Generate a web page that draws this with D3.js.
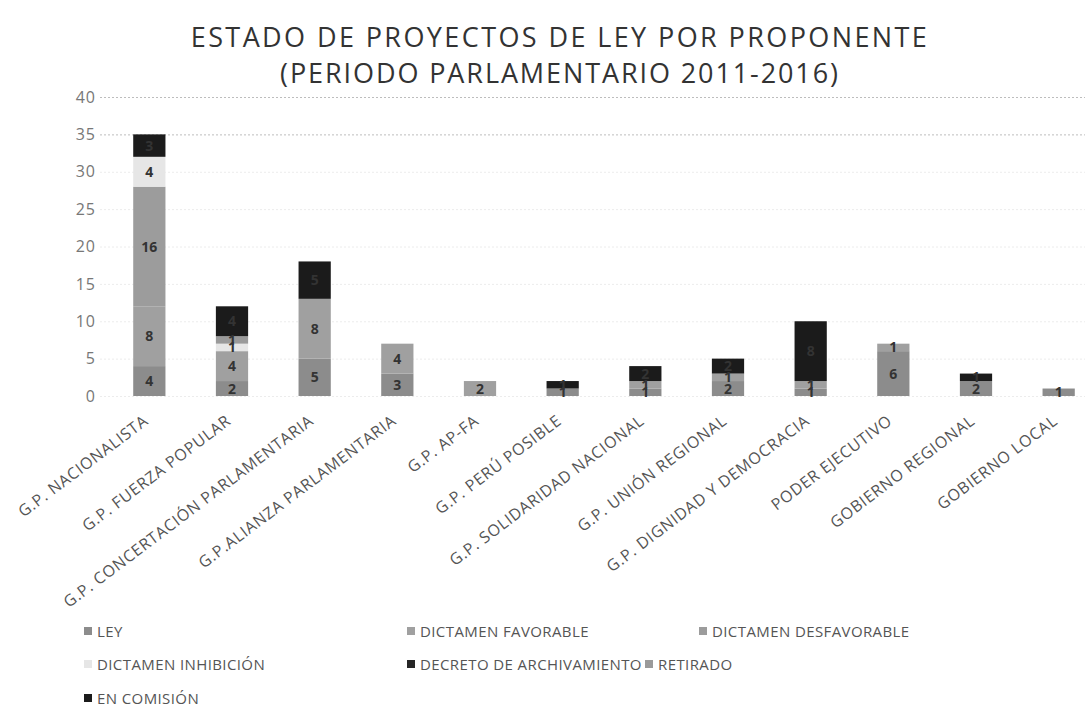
<!DOCTYPE html>
<html>
<head>
<meta charset="utf-8">
<script src="https://cdn.jsdelivr.net/npm/d3@7"></script>
<style>
  html, body { margin: 0; padding: 0; background: #fff; }
  svg { display: block; font-family: "Open Sans", "DejaVu Sans", sans-serif; }
</style>
</head>
<body>
<svg id="chart" width="1089" height="715"></svg>
<script>
const categories = [
  "G.P. NACIONALISTA", "G.P. FUERZA POPULAR", "G.P. CONCERTACIÓN PARLAMENTARIA",
  "G.P.ALIANZA PARLAMENTARIA", "G.P. AP-FA", "G.P. PERÚ POSIBLE",
  "G.P. SOLIDARIDAD NACIONAL", "G.P. UNIÓN REGIONAL", "G.P. DIGNIDAD Y DEMOCRACIA",
  "PODER EJECUTIVO", "GOBIERNO REGIONAL", "GOBIERNO LOCAL"
];
const seriesNames = [
  "LEY", "DICTAMEN FAVORABLE", "DICTAMEN DESFAVORABLE", "DICTAMEN INHIBICIÓN",
  "DECRETO DE ARCHIVAMIENTO", "RETIRADO", "EN COMISIÓN"
];
const ley                  = [4, 2, 5, 3, 0, 1, 1, 2, 1, 6, 2, 1];
const dictamenFavorable    = [8, 4, 8, 4, 2, 0, 1, 1, 1, 1, 0, 0];
const dictamenDesfavorable = [16, 0, 0, 0, 0, 0, 0, 0, 0, 0, 0, 0];
const dictamenInhibicion   = [4, 1, 0, 0, 0, 0, 0, 0, 0, 0, 0, 0];
const decretoArchivamiento = [0, 0, 0, 0, 0, 0, 0, 0, 0, 0, 0, 0];
const retirado             = [0, 1, 0, 0, 0, 0, 0, 0, 0, 0, 0, 0];
const enComision           = [3, 4, 5, 0, 0, 1, 2, 2, 8, 0, 1, 0];
const yTicks = [0, 5, 10, 15, 20, 25, 30, 35, 40];
const titleLines = ["ESTADO DE PROYECTOS DE LEY POR PROPONENTE", "(PERIODO PARLAMENTARIO 2011-2016)"];

const seriesValues = [ley, dictamenFavorable, dictamenDesfavorable, dictamenInhibicion,
                      decretoArchivamiento, retirado, enComision];
const colors = ["#8c8c8c", "#a0a0a0", "#9c9c9c", "#e6e6e6", "#262626", "#9a9a9a", "#1b1b1b"];

const rows = categories.map((c, i) => {
  const r = { cat: c };
  seriesNames.forEach((s, j) => r[s] = seriesValues[j][i]);
  return r;
});
const stacked = d3.stack().keys(seriesNames)(rows);

const svg = d3.select("#chart");
svg.append("rect").attr("width", 1089).attr("height", 715).attr("fill", "#fff");

const x = d3.scaleBand().domain(categories).range([108, 1100]).paddingInner(0.61).paddingOuter(0.305);
const y = d3.scaleLinear().domain([0, 40]).range([396, 97]);

// title
svg.append("g").selectAll("text").data(titleLines).join("text")
  .attr("x", 560).attr("y", (d, i) => 47 + i * 36)
  .attr("text-anchor", "middle")
  .attr("font-size", 27).attr("letter-spacing", (d, i) => i === 0 ? 2.4 : 1.9).attr("fill", "#333")
  .text(d => d);

// gridlines
const grid = svg.append("g").attr("transform", "translate(100,0)")
  .call(d3.axisLeft(y).tickValues(yTicks).tickSize(-985).tickFormat(""));
grid.select(".domain").remove();
grid.selectAll(".tick line")
  .attr("stroke", d => d >= 35 ? "#bdbdbd" : "#ececec")
  .attr("stroke-dasharray", "2,2");

// y axis labels
const yAxis = svg.append("g").attr("transform", "translate(96,0)")
  .call(d3.axisLeft(y).tickValues(yTicks).tickSize(0).tickPadding(0));
yAxis.select(".domain").remove();
yAxis.selectAll("text").attr("font-size", 16).attr("fill", "#777").attr("letter-spacing", 1)
  .attr("font-family", "\"Open Sans\", sans-serif");

// bars
const layers = svg.append("g").selectAll("g").data(stacked).join("g")
  .attr("fill", (d, i) => colors[i]);
layers.selectAll("rect").data(d => d.filter(p => p[1] - p[0] > 0)).join("rect")
  .attr("x", d => x(d.data.cat))
  .attr("width", x.bandwidth())
  .attr("y", d => y(d[1]))
  .attr("height", d => y(d[0]) - y(d[1]));

// value labels
const lab = svg.append("g").selectAll("g").data(stacked).join("g");
lab.selectAll("text").data(d => d.filter(p => p[1] - p[0] > 0)).join("text")
  .attr("x", d => x(d.data.cat) + x.bandwidth() / 2)
  .attr("y", d => y((d[0] + d[1]) / 2) + 5)
  .attr("text-anchor", "middle")
  .attr("font-size", 14).attr("font-weight", "bold").attr("fill", "#333")
  .text(d => d[1] - d[0]);

// x labels
const xAxis = svg.append("g").attr("transform", "translate(0,396)")
  .call(d3.axisBottom(x).tickSize(0).tickPadding(0));
xAxis.select(".domain").remove();
xAxis.selectAll("text")
  .attr("font-size", 16).attr("letter-spacing", 0.7).attr("fill", "#555")
  .attr("font-family", "\"Open Sans\", sans-serif")
  .attr("text-anchor", "end")
  .attr("dy", "0")
  .attr("transform", "translate(0,27) rotate(-37)");

// legend
const legendPos = [
  [88, 631], [411, 631], [703, 631],
  [88, 664], [411, 664], [649, 664],
  [88, 698]
];
const leg = svg.append("g").selectAll("g").data(seriesNames).join("g")
  .attr("transform", (d, i) => `translate(${legendPos[i][0]},${legendPos[i][1]})`);
leg.append("rect").attr("x", -4).attr("y", -4).attr("width", 8).attr("height", 8)
  .attr("fill", (d, i) => colors[i]);
leg.append("text").attr("x", 9).attr("y", 5.5)
  .attr("font-size", 15).attr("letter-spacing", 0.4).attr("fill", "#555")
  .text(d => d);
</script>
</body>
</html>
